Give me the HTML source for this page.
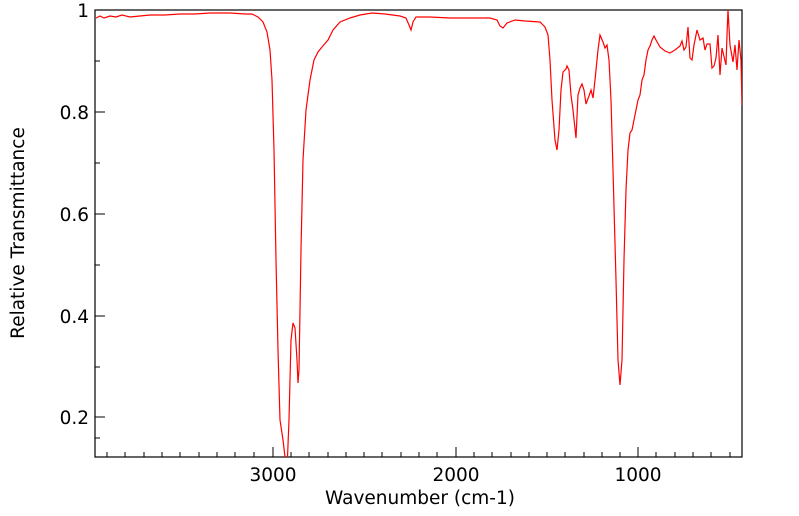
<!DOCTYPE html>
<html><head><style>body{margin:0;background:#fff}svg{display:block}text{font-family:"DejaVu Sans","Liberation Sans",sans-serif;fill:#000}</style></head>
<body>
<svg width="799" height="516" viewBox="0 0 799 516">
<defs><clipPath id="c"><rect x="95" y="10" width="647" height="447"/></clipPath></defs>
<rect x="95" y="10" width="647" height="447" fill="none" stroke="#000" stroke-width="1.2"/>
<g stroke="#000" stroke-width="1">
<path d="M95,10h10M95,112h10M95,214h10M95,316h10M95,417h10"/>
<path d="M95,61h5M95,163h5M95,265h5M95,367h5M95,438h5"/>
<path d="M273,457v-10M456,457v-10M638,457v-10"/>
<path d="M107,457v-5M125,457v-5M144,457v-5M162,457v-5M180,457v-5M199,457v-5M217,457v-5M235,457v-5M254,457v-5M291,457v-5M309,457v-5M328,457v-5M346,457v-5M364,457v-5M382,457v-5M401,457v-5M419,457v-5M437,457v-5M474,457v-5M492,457v-5M511,457v-5M529,457v-5M547,457v-5M565,457v-5M584,457v-5M602,457v-5M620,457v-5M656,457v-5M675,457v-5M693,457v-5M711,457v-5M730,457v-5"/>
</g>
<g font-size="18.5" text-anchor="end">
<text x="89" y="17">1</text><text x="89" y="119">0.8</text><text x="89" y="221">0.6</text><text x="89" y="323">0.4</text><text x="89" y="424">0.2</text>
</g>
<g font-size="18.5" text-anchor="middle">
<text x="273" y="481">3000</text><text x="456" y="481">2000</text><text x="638" y="481">1000</text>
<text x="420" y="504">Wavenumber (cm-1)</text>
<text transform="translate(24,233) rotate(-90)">Relative Transmittance</text>
</g>
<polyline clip-path="url(#c)" fill="none" stroke="#f00" stroke-width="1.2" points="96,18 100,16 104,18 110,16 116,17 122,15 130,17 140,16 150,15 165,15 180,14 195,14 210,13 230,13 245,14 252,14 258,17 263,22 267,32 270,50 272,80 274,150 276,260 278,350 280,420 283,440 285,457 287,470 289,420 291,340 293,323 295,328 297,360 298,383 299,370 301,250 303,160 306,110 310,80 314,60 318,52 322,47 328,40 333,30 340,22 350,18 360,15 372,13 385,14 400,16 406,18 409,25 411,30 413,22 416,17 430,17 450,18 470,18 490,18 497,20 500,26 503,28 507,23 515,20 525,21 540,22 545,27 548,35 550,60 552,100 555,140 557,150 559,130 561,90 563,72 566,69 567,66 569,70 571,95 573,110 576,138 578,95 580,88 582,84 584,90 586,104 589,96 591,90 593,98 595,80 598,50 600,35 603,42 605,48 607,45 609,60 611,100 613,170 616,280 618,360 620,385 622,360 624,260 626,190 628,150 630,133 632,130 634,120 636,110 638,100 640,95 642,80 644,75 646,60 648,50 650,46 652,40 654,36 656,40 660,47 665,51 670,53 675,50 680,46 682,41 684,50 686,47 688,27 690,58 692,60 694,45 697,30 700,40 703,38 705,50 707,44 710,44 712,68 714,66 716,58 718,35 720,75 722,48 726,65 727,35 728,10 730,45 733,62 735,45 737,70 739,40 741,60 742,105"/>
</svg>
</body></html>
